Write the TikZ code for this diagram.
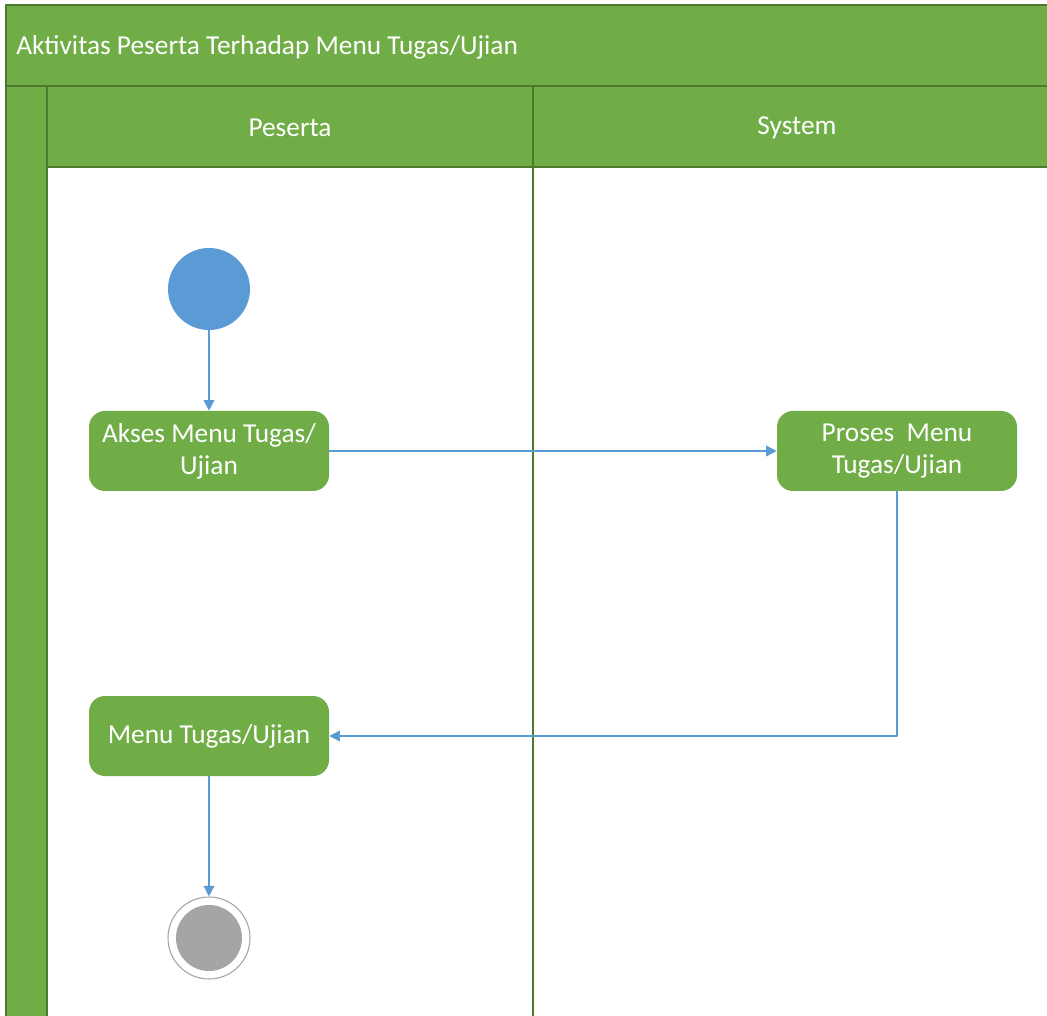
\documentclass[tikz,border=0pt]{standalone}
\usepackage{fontspec}
\setmainfont{Carlito}
\usetikzlibrary{arrows.meta}
\definecolor{hijau}{HTML}{70AD47}
\definecolor{hijautua}{HTML}{4B7A2D}
\definecolor{biru}{HTML}{5B9BD5}
\definecolor{abu}{HTML}{A5A5A5}
\tikzset{
	aksi/.style={rounded corners=12pt, fill=hijau, text=white, minimum width=180pt, minimum height=60pt, inner sep=0pt, align=center},
	awal/.style={circle, fill=biru, minimum size=61.5pt, inner sep=0pt},
	akhir/.style={circle, draw=abu, fill=white, line width=0.8pt, minimum size=61.5pt, inner sep=0pt},
	alur/.style={biru, line width=1.1pt, -{Triangle[length=8pt,width=8pt]}},
	garis/.style={hijautua, line width=1.5pt}
}
\begin{document}
\begin{tikzpicture}[x=0.75pt,y=-0.75pt, line join=round, font=\fontsize{20.5}{24}\selectfont]
	\useasboundingbox (0,0) rectangle (1047,1016);
	% kolam dan jalur
	\begin{scope}
	\clip (0,0) rectangle (1047,1016);
	\draw[garis, fill=hijau] (6,5) rectangle (1070,1040);
	\fill[white] (47,167) rectangle (1070,1040);
	\draw[garis] 
	(6,86)--(1070,86) 
	(47,86)--(47,1040) 
	(47,167)--(1070,167) 
	(533,86)--(533,1040);
	\end{scope}
	\path 
	(16,47) node[anchor=west, inner sep=0pt, text=white] (judul) {Aktivitas Peserta Terhadap Menu Tugas/Ujian}
	(290,128) node[text=white] (peserta) {Peserta}
	(797,128) node[text=white] (sistem) {System};
	% aktivitas
	\path 
	(209,289) node[awal] (mulai) {}
	(209,451) node[aksi] (akses) {Akses Menu Tugas/\\Ujian}
	(897,451) node[aksi] (proses) {Proses\ \ Menu\\Tugas/Ujian}
	(209,736) node[aksi] (menu) {Menu Tugas/Ujian}
	(209,938) node[akhir] (selesai) {};
	\fill[abu] (selesai.center) circle[radius=24.75pt];
	\draw[alur] (mulai)--(akses);
	\draw[alur] (akses)--(proses);
	\draw[alur] (proses.south)|-(menu.east);
	\draw[alur] (menu)--(selesai);
\end{tikzpicture}
\end{document}
